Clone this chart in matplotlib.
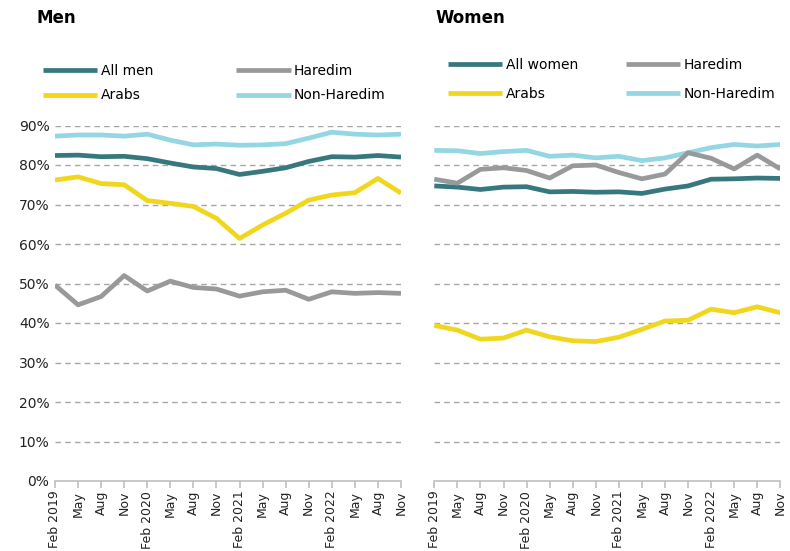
import matplotlib.pyplot as plt
import numpy as np

plt.rcParams['font.family'] = ['DejaVu Sans']

months = ["Feb 2019", "May", "Aug", "Nov", "Feb 2020", "May", "Aug", "Nov",
          "Feb 2021", "May", "Aug", "Nov", "Feb 2022", "May", "Aug", "Nov"]

men_all = [82.4, 82.5, 82.1, 82.2, 81.6, 80.5, 79.5, 79.1, 77.6, 78.4, 79.3, 80.9, 82.1, 82.0, 82.4, 82.0]
men_haredim = [49.6, 44.6, 46.7, 52.0, 48.1, 50.6, 49.0, 48.6, 46.8, 47.9, 48.3, 46.0, 47.9, 47.5, 47.7, 47.5]
men_arabs = [76.2, 77.0, 75.3, 75.0, 71.0, 70.3, 69.5, 66.5, 61.4, 64.8, 67.8, 71.1, 72.4, 73.0, 76.6, 72.9]
men_nonharedim = [87.3, 87.6, 87.6, 87.3, 87.8, 86.3, 85.1, 85.3, 85.0, 85.1, 85.4, 86.8, 88.3, 87.8, 87.6, 87.8]

women_all = [74.7, 74.4, 73.8, 74.4, 74.5, 73.2, 73.3, 73.1, 73.2, 72.8, 73.9, 74.7, 76.4, 76.5, 76.7, 76.6]
women_haredim = [76.4, 75.4, 78.9, 79.3, 78.6, 76.7, 79.8, 80.0, 78.1, 76.5, 77.7, 83.1, 81.7, 79.0, 82.5, 79.0]
women_arabs = [39.4, 38.2, 35.9, 36.2, 38.2, 36.5, 35.5, 35.3, 36.4, 38.4, 40.5, 40.7, 43.5, 42.6, 44.1, 42.6]
women_nonharedim = [83.7, 83.6, 82.9, 83.4, 83.7, 82.2, 82.5, 81.8, 82.2, 81.1, 81.8, 83.1, 84.4, 85.2, 84.8, 85.2]

yticks = [0, 10, 20, 30, 40, 50, 60, 70, 80, 90]

C_ALL = '#37787E'
C_HAR = '#98999B'
C_ARB = '#F0D71E'
C_NON = '#94D6E4'

fig = plt.figure(figsize=(7.9, 5.51), dpi=100)
axL = fig.add_axes([55/790, 1-481/551, 346/790, (481-125.5)/551])
axR = fig.add_axes([434.3/790, 1-481/551, 346/790, (481-125.5)/551])

x = np.arange(len(months))
lw = 3.4

def draw(ax, allv, har, arb, non, alllabel):
    h_non, = ax.plot(x, non, color=C_NON, lw=lw, label='Non-Haredim', zorder=3, solid_capstyle='butt')
    h_all, = ax.plot(x, allv, color=C_ALL, lw=lw, label=alllabel, zorder=4, solid_capstyle='butt')
    h_arb, = ax.plot(x, arb, color=C_ARB, lw=lw, label='Arabs', zorder=4, solid_capstyle='butt')
    h_har, = ax.plot(x, har, color=C_HAR, lw=lw, label='Haredim', zorder=5, solid_capstyle='butt')
    ax.set_xlim(0, len(months)-1)
    ax.set_ylim(0, 90)
    ax.set_yticks(yticks)
    for v in yticks[1:]:
        ax.axhline(v, color='#A6A6A6', lw=1.0, ls=(0, (4, 3)), zorder=1)
    for s in ['top', 'right', 'left']:
        ax.spines[s].set_visible(False)
    ax.spines['bottom'].set_color('#BFBFBF')
    ax.spines['bottom'].set_linewidth(1.2)
    ax.set_xticks(x)
    ax.set_xticklabels(months, rotation=90, fontsize=9, color='#222222')
    ax.tick_params(axis='x', length=5, color='#BFBFBF', width=1.2, pad=2)
    ax.tick_params(axis='y', length=0, labelsize=10, labelcolor='#222222', pad=4)
    return [h_all, h_arb, h_har, h_non]

hL = draw(axL, men_all, men_haredim, men_arabs, men_nonharedim, 'All men')
axL.set_yticklabels([f'{v}%' for v in yticks])
hR = draw(axR, women_all, women_haredim, women_arabs, women_nonharedim, 'All women')
axR.set_yticklabels([])

fig.text(37/790, 1-18/551, 'Men', fontsize=12, fontweight='bold', va='center', ha='left')
fig.text(435/790, 1-18/551, 'Women', fontsize=12, fontweight='bold', va='center', ha='left')

fig.legend(handles=hL, loc='upper left', bbox_to_anchor=(43/790, 1-64/551), ncol=2, frameon=False,
           fontsize=10, handlelength=3.9, handletextpad=0.25, columnspacing=6.0, labelspacing=0.75,
           borderaxespad=0, borderpad=0)
fig.legend(handles=hR, loc='upper left', bbox_to_anchor=(448/790, 1-58/551), ncol=2, frameon=False,
           fontsize=10, handlelength=3.9, handletextpad=0.25, columnspacing=3.45, labelspacing=1.05,
           borderaxespad=0, borderpad=0)

fig.savefig('out.png', dpi=100)
